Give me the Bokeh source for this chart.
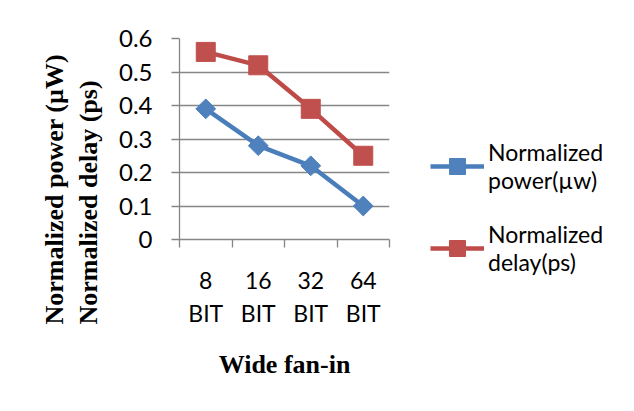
import math
from bokeh.plotting import figure
from bokeh.models import FixedTicker, Legend, LegendItem, Title, ColumnDataSource
from bokeh.embed import file_html
from bokeh.resources import INLINE

categories = ["8 BIT", "16 BIT", "32 BIT", "64 BIT"]
power = [0.39, 0.28, 0.22, 0.10]
delay = [0.56, 0.52, 0.39, 0.25]
y_ticks = [0.0, 0.1, 0.2, 0.3, 0.4, 0.5, 0.6]
series_names = ["Normalized\npower(\u00b5w)", "Normalized\ndelay(ps)"]
y_title_lines = ["Normalized power (\u00b5W)", "Normalized delay (ps)"]
x_title = "Wide fan-in"

xs = [i + 0.5 for i in range(len(categories))]
src = ColumnDataSource(dict(x=xs, power=power, delay=delay))

SANS = "Lato"
SERIF = "Liberation Serif"
GREY = "#868686"

p = figure(frame_width=210, frame_height=201, output_backend="svg", toolbar_location=None,
           x_range=(0, len(categories)), y_range=(0, 0.6),
           min_border_left=179, min_border_right=237, min_border_top=38, min_border_bottom=164)
p.background_fill_color = "white"
p.border_fill_color = "white"
p.outline_line_color = None

# grid
p.xgrid.grid_line_color = None
p.ygrid.grid_line_color = GREY
p.ygrid.grid_line_width = 1.3
p.ygrid.ticker = FixedTicker(ticks=y_ticks)

# y axis
p.yaxis.ticker = FixedTicker(ticks=y_ticks)
p.yaxis.major_label_overrides = {0: "0"}
p.yaxis.axis_line_color = GREY
p.yaxis.axis_line_width = 1.3
p.yaxis.major_tick_line_color = GREY
p.yaxis.major_tick_line_width = 1.3
p.yaxis.major_tick_out = 8
p.yaxis.major_tick_in = 0
p.yaxis.minor_tick_line_color = None
p.yaxis.major_label_text_font = SANS
p.yaxis.major_label_text_font_size = "24px"
p.yaxis.major_label_text_color = "black"
p.yaxis.major_label_standoff = 19

# x axis
p.xaxis.ticker = FixedTicker(ticks=xs, minor_ticks=list(range(len(categories) + 1)))
p.xaxis.major_label_overrides = {x: c.replace(" ", "\n") for x, c in zip(xs, categories)}
p.xaxis.axis_line_color = GREY
p.xaxis.axis_line_width = 1.3
p.xaxis.major_tick_line_color = None
p.xaxis.major_tick_out = 0
p.xaxis.major_tick_in = 0
p.xaxis.minor_tick_line_color = GREY
p.xaxis.minor_tick_line_width = 1.3
p.xaxis.minor_tick_out = 8
p.xaxis.minor_tick_in = 0
p.xaxis.major_label_text_font = SANS
p.xaxis.major_label_text_font_size = "23px"
p.xaxis.major_label_text_color = "black"
p.xaxis.major_label_standoff = 18
p.xaxis.axis_label = x_title
p.xaxis.axis_label_text_font = SERIF
p.xaxis.axis_label_text_font_style = "bold"
p.xaxis.axis_label_text_font_size = "26px"
p.xaxis.axis_label_text_color = "black"
p.xaxis.axis_label_standoff = 20

BLUE_L, BLUE_M = "#4A7EBB", "#4F81BD"
RED_L, RED_M = "#BE4B48", "#C0504D"

l1 = p.line("x", "power", source=src, line_color=BLUE_L, line_width=4.5)
m1 = p.scatter("x", "power", source=src, marker="square", angle=math.pi / 4, size=14,
               fill_color=BLUE_M, line_color=BLUE_M)
l2 = p.line("x", "delay", source=src, line_color=RED_L, line_width=4.5)
m2 = p.scatter("x", "delay", source=src, marker="square", size=19,
               fill_color=RED_M, line_color=RED_M)

legend = Legend(items=[LegendItem(label=series_names[0], renderers=[l1, m1]),
                       LegendItem(label=series_names[1], renderers=[l2, m2])],
                location=(41, -37), orientation="vertical")
legend.border_line_color = None
legend.background_fill_alpha = 0
legend.padding = 0
legend.margin = 0
legend.spacing = 26
legend.glyph_width = 54
legend.glyph_height = 40
legend.label_standoff = 4
legend.label_text_font = SANS
legend.label_text_font_size = "23px"
legend.label_text_color = "black"
legend.label_text_line_height = 1.2
p.add_layout(legend, "right")

# y-axis title: two rotated lines
ytitle = Title(text="\n".join(y_title_lines), align="left", offset=-85, standoff=24,
               text_font=SERIF, text_font_style="bold", text_font_size="26px",
               text_color="black", text_line_height=1.2)
p.add_layout(ytitle, "left")

open("out.html", "w").write(file_html(p, INLINE))
